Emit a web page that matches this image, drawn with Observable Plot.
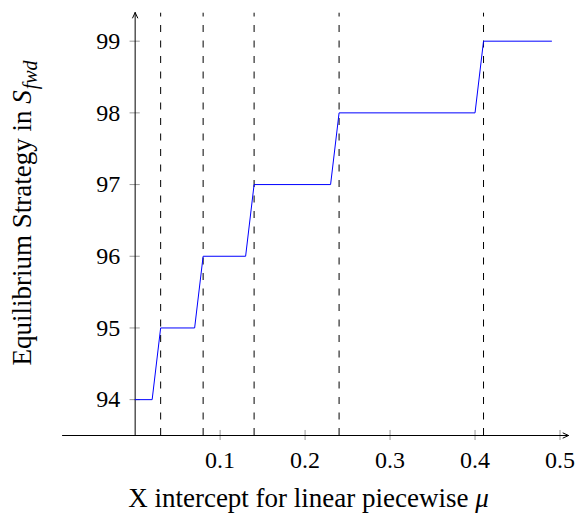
<!DOCTYPE html>
<html><head><meta charset="utf-8">
<script src="https://cdn.jsdelivr.net/npm/d3@7"></script>
<script src="https://cdn.jsdelivr.net/npm/@observablehq/plot@0.6"></script>
<style>body{margin:0;background:#fff}</style>
</head><body><div id="chart"></div>
<script>
// Data
const xValues = [0, 0.02, 0.03, 0.07, 0.08, 0.13, 0.14, 0.23, 0.24, 0.40, 0.41, 0.49];
const yValues = [94, 94, 95, 95, 96, 96, 97, 97, 98, 98, 99, 99];
const thresholds = [0.03, 0.08, 0.14, 0.24, 0.41];
const xTicks = [0.1, 0.2, 0.3, 0.4, 0.5];
const yTicks = [94, 95, 96, 97, 98, 99];
const xLabelText = "X intercept for linear piecewise ";
const xLabelSym = "μ";
const yLabelText = "Equilibrium Strategy in ";
const yLabelSym = "S";
const yLabelSub = "fwd";

const xMin = -0.0855, xMax = 0.51, yMin = 93.5, yMax = 99.4;
const font = "Liberation Serif, Times New Roman, serif";

const series = xValues.map((x, i) => ({x, y: yValues[i]}));
const axes = [
  {x1: xMin, y1: yMin, x2: xMax, y2: yMin},
  {x1: 0, y1: yMin, x2: 0, y2: yMax}
];

const chart = Plot.plot({
  width: 576,
  height: 516,
  marginLeft: 62,
  marginRight: 8,
  marginTop: 12,
  marginBottom: 81,
  x: {domain: [xMin, xMax], axis: null},
  y: {domain: [yMin, yMax], axis: null},
  style: {fontFamily: font, background: "white"},
  marks: [
    Plot.ruleX(thresholds, {x: d => d, y1: yMin, y2: yMax - 0.01, stroke: "black", strokeWidth: 1, strokeDasharray: "7,8.5"}),
    Plot.ruleX(xTicks, {x: d => d, y1: yMin - 0.07, y2: yMin + 0.07, stroke: "#999", strokeWidth: 1}),
    Plot.ruleY(yTicks, {y: d => d, x1: -0.006, x2: 0.006, stroke: "#999", strokeWidth: 1}),
    Plot.arrow(axes, {x1: "x1", y1: "y1", x2: "x2", y2: "y2", bend: 0, headLength: 9, headAngle: 50, stroke: "black", strokeWidth: 1}),
    Plot.line(series, {x: "x", y: "y", stroke: "#0000ff", strokeWidth: 1}),
    Plot.text(xTicks, {x: d => d, y: yMin, dy: 25, text: d => String(d), fontSize: 24, fill: "black"}),
    Plot.text(yTicks, {x: 0, y: d => d, dx: -15, textAnchor: "end", text: d => String(d), fontSize: 24, fill: "black"}),
    Plot.text([xLabelText + xLabelSym], {frameAnchor: "bottom", dx: -7, dy: 71, fontSize: 27, fill: "black", className: "xlab"}),
    Plot.text([yLabelText + yLabelSym + yLabelSub], {frameAnchor: "left", textAnchor: "middle", lineAnchor: "middle", rotate: -90, dx: -40, dy: -11, fontSize: 27, fill: "black", className: "ylab"})
  ]
});

document.getElementById("chart").appendChild(chart);

// rich text for axis labels
const ns = "http://www.w3.org/2000/svg";
function setRich(sel, parts) {
  const t = chart.querySelector(sel + " text");
  if (!t) return;
  t.textContent = "";
  for (const p of parts) {
    const s = document.createElementNS(ns, "tspan");
    s.textContent = p.text;
    if (p.italic) s.setAttribute("font-style", "italic");
    if (p.size) s.setAttribute("font-size", p.size);
    if (p.dy) s.setAttribute("dy", p.dy);
    if (p.dx) s.setAttribute("dx", p.dx);
    t.appendChild(s);
  }
}
setRich(".xlab", [{text: xLabelText}, {text: xLabelSym, italic: true}]);
setRich(".ylab", [{text: yLabelText}, {text: yLabelSym, italic: true}, {text: yLabelSub, italic: true, size: 20, dy: 6, dx: 1}]);
</script>
</body></html>
